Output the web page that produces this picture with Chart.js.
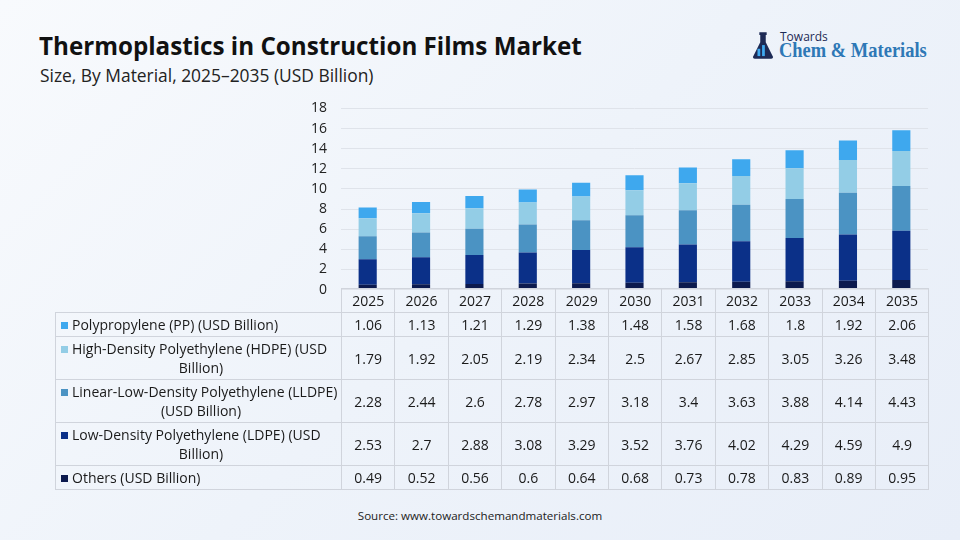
<!DOCTYPE html>
<html>
<head>
<meta charset="utf-8">
<script src="https://cdn.jsdelivr.net/npm/chart.js@4.4.0/dist/chart.umd.min.js"></script>
<style>
  html, body { margin: 0; padding: 0; }
  body {
    width: 960px; height: 540px; position: relative; overflow: hidden;
    background: linear-gradient(135deg, #f8fafd 0%, #eef3fa 50%, #e8eef8 100%);
    font-family: "Open Sans", sans-serif; color: #1a1a1a;
  }
  #title { position: absolute; left: 39px; top: 29px; font-size: 24.2px; font-weight: bold; color: #111; white-space: nowrap; }
  #subtitle { position: absolute; left: 40px; top: 63px; font-size: 17.4px; color: #222; white-space: nowrap; }
  #logo { position: absolute; left: 752px; top: 28px; }
  #logo .t1 { position: absolute; left: 28px; top: 0px; font-size: 12px; color: #1d2a55; white-space: nowrap; }
  #logo .t2 { position: absolute; left: 27px; top: 10px; font-size: 21px; font-weight: bold; font-family: "Liberation Serif", serif; color: #2e78b6; white-space: nowrap; transform: scaleX(0.88); transform-origin: left top; }
  #logo svg { position: absolute; left: 0; top: 4px; }
  #bar-chart { position: absolute; left: 0; top: 86px; }
  table { position: absolute; left: 55px; top: 288px; border-collapse: collapse; font-family: "Open Sans", sans-serif; font-size: 14px; color: #1a1a1a; }
  td { border: 1px solid #d0d4dc; text-align: center; padding: 0; }
  td.lab { width: 280px; text-align: left; padding-left: 5px; line-height: 19px; }
  td.lab .l2 { text-align: center; }
  td.num { width: 52.4px; }
  tr.hd td { height: 23px; }
  tr.hd td.blank { border: none; border-right: 1px solid #d0d4dc; }
  tr.r1 td { height: 23px; }
  tr.r2 td { height: 42px; }
  .mk { display: inline-block; width: 7px; height: 7px; margin-right: 4px; vertical-align: 1px; }
  #source { position: absolute; left: 0; width: 960px; top: 508px; text-align: center; font-size: 11.6px; color: #222; }
</style>
</head>
<body>
<div id="title">Thermoplastics in Construction Films Market</div>
<div id="subtitle">Size, By Material, 2025–2035 (USD Billion)</div>
<div id="logo">
  <svg width="22" height="28" viewBox="0 0 24 30">
    <rect x="8" y="0" width="8" height="3" fill="#1d2a55"/>
    <path d="M9 3 L15 3 L15 11 L23 27 Q23 29 21 29 L3 29 Q1 29 1 27 L9 11 Z" fill="#1d2a55"/>
    <rect x="6" y="18" width="3" height="8" fill="#3fa9f0"/>
    <rect x="11" y="14" width="3" height="12" fill="#3fa9f0"/>
  </svg>
  <div class="t1">Towards</div>
  <div class="t2">Chem &amp; Materials</div>
</div>
<canvas id="bar-chart" width="960" height="226"></canvas>
<table id="tbl"></table>
<div id="source">Source: www.towardschemandmaterials.com</div>
<script>
const years = ["2025", "2026", "2027", "2028", "2029", "2030", "2031", "2032", "2033", "2034", "2035"];
const pp = [1.06, 1.13, 1.21, 1.29, 1.38, 1.48, 1.58, 1.68, 1.8, 1.92, 2.06];
const hdpe = [1.79, 1.92, 2.05, 2.19, 2.34, 2.5, 2.67, 2.85, 3.05, 3.26, 3.48];
const lldpe = [2.28, 2.44, 2.6, 2.78, 2.97, 3.18, 3.4, 3.63, 3.88, 4.14, 4.43];
const ldpe = [2.53, 2.7, 2.88, 3.08, 3.29, 3.52, 3.76, 4.02, 4.29, 4.59, 4.9];
const others = [0.49, 0.52, 0.56, 0.6, 0.64, 0.68, 0.73, 0.78, 0.83, 0.89, 0.95];
const yTicks = [0, 2, 4, 6, 8, 10, 12, 14, 16, 18];

const COLORS = {
  pp: "#3ea8ee",
  hdpe: "#93cde6",
  lldpe: "#4b93c3",
  ldpe: "#0b3088",
  others: "#0c1a4e",
};

// table rows, top to bottom as in the picture
const rows = [
  { l1: "Polypropylene (PP) (USD Billion)", l2: "", data: pp, color: COLORS.pp },
  { l1: "High-Density Polyethylene (HDPE) (USD", l2: "Billion)", data: hdpe, color: COLORS.hdpe },
  { l1: "Linear-Low-Density Polyethylene (LLDPE)", l2: "(USD Billion)", data: lldpe, color: COLORS.lldpe },
  { l1: "Low-Density Polyethylene (LDPE) (USD", l2: "Billion)", data: ldpe, color: COLORS.ldpe },
  { l1: "Others (USD Billion)", l2: "", data: others, color: COLORS.others },
];

const tbl = document.getElementById("tbl");
let html = '<tr class="hd"><td class="lab blank"></td>' + years.map(y => '<td class="num">' + y + '</td>').join("") + '</tr>';
rows.forEach(r => {
  const cls = r.l2 ? "r2" : "r1";
  let lab = '<span class="mk" style="background:' + r.color + '"></span>' + r.l1;
  if (r.l2) lab = '<div>' + lab + '</div><div class="l2">' + r.l2 + '</div>';
  html += '<tr class="' + cls + '"><td class="lab">' + lab + '</td>' + r.data.map(v => '<td class="num">' + v + '</td>').join("") + '</tr>';
});
tbl.innerHTML = html;

const data_bars = {
  labels: years,
  datasets: [
    { label: "Others (USD Billion)", data: others, backgroundColor: COLORS.others },
    { label: "Low-Density Polyethylene (LDPE) (USD Billion)", data: ldpe, backgroundColor: COLORS.ldpe },
    { label: "Linear-Low-Density Polyethylene (LLDPE) (USD Billion)", data: lldpe, backgroundColor: COLORS.lldpe },
    { label: "High-Density Polyethylene (HDPE) (USD Billion)", data: hdpe, backgroundColor: COLORS.hdpe },
    { label: "Polypropylene (PP) (USD Billion)", data: pp, backgroundColor: COLORS.pp },
  ],
};

const config_bars = {
  type: "bar",
  data: data_bars,
  options: {
    responsive: false,
    animation: false,
    layout: { padding: { left: 290, right: 32, top: 4, bottom: 0 } },
    datasets: { bar: { categoryPercentage: 1, barPercentage: 0.34 } },
    plugins: { legend: { display: false }, title: { display: false }, tooltip: { enabled: false } },
    scales: {
      x: {
        stacked: true,
        ticks: { display: false },
        grid: { display: false },
        border: { display: false },
        afterFit: (scale) => { scale.height = 7; },
      },
      y: {
        stacked: true,
        min: 0,
        max: 18,
        afterBuildTicks: (scale) => { scale.ticks = yTicks.map(v => ({ value: v })); },
        afterFit: (scale) => { scale.width = 51; },
        ticks: { color: "#222", font: { family: "Open Sans", size: 14 }, padding: 14 },
        grid: { color: "#dfe3ea", drawTicks: false },
        border: { display: false },
      },
    },
  },
};

var ctx_bars = document.getElementById("bar-chart").getContext("2d");
var myChart_bars = new Chart(ctx_bars, config_bars);
</script>
</body>
</html>
